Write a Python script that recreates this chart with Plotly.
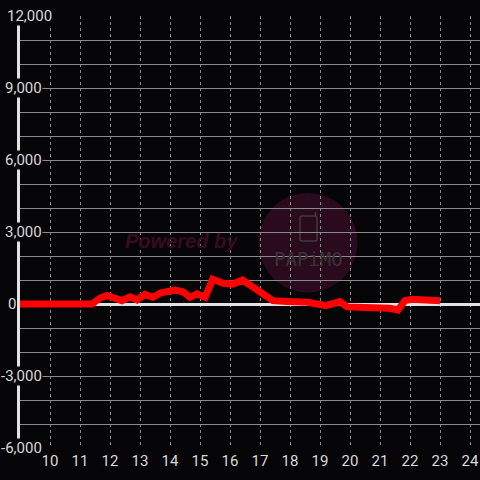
import plotly.graph_objects as go

# ---- data ----
hours = [9.0, 11.4, 11.67, 11.9, 12.4, 12.67, 12.9, 13.17, 13.43, 13.7, 14.17, 14.43,
         14.67, 14.9, 15.17, 15.42, 15.77, 16.1, 16.42, 16.67, 17.0, 17.43, 17.9,
         18.6, 19.2, 19.67, 19.9, 20.5, 21.33, 21.6, 21.83, 22.07, 23.0]
values = [0, 0, 250, 360, 140, 300, 170, 400, 280, 470, 580, 510,
          280, 420, 280, 1030, 860, 830, 1000, 790, 510, 140, 100,
          70, -70, 100, -120, -140, -180, -250, 140, 200, 140]

x_tick_vals = list(range(10, 25))
x_tick_text = [str(v) for v in x_tick_vals]
y_grid_vals = list(range(-6000, 12001, 1000))
y_label_vals = [12000, 9000, 6000, 3000, 0, -3000, -6000]
y_label_text = ["12,000", "9,000", "6,000", "3,000", "0", "-3,000", "-6,000"]

BG = "#050407"
GRID = "#8a8a8a"
AXIS = "#e2e2e2"
TXT = "#d9d9d9"
FONT = "Roboto, Liberation Sans, Arial"

W, H = 480, 480
ML, MR, MT, MB = 20, 0, 16, 32
PW, PH = W - ML - MR, H - MT - MB


def px(x):
    return (x - ML) / PW


def py(y):
    return (H - MB - y) / PH


fig = go.Figure()
fig.add_trace(go.Scatter(
    x=hours, y=values, mode="lines",
    line=dict(color="#ff0000", width=7),
    hoverinfo="skip", showlegend=False, cliponaxis=False,
))

# watermark
shapes = [
    dict(type="circle", xref="paper", yref="paper",
         x0=px(258.5), x1=px(357.5), y0=py(292.5), y1=py(193),
         fillcolor="#2a0a1d", line=dict(width=0), layer="below"),
    dict(type="path", xref="paper", yref="paper",
         path=(f"M {px(302)} {py(216)} L {px(315)} {py(216)} "
               f"Q {px(317)} {py(216)} {px(317)} {py(218)} "
               f"L {px(317)} {py(239)} Q {px(317)} {py(241)} {px(315)} {py(241)} "
               f"L {px(302)} {py(241)} Q {px(300)} {py(241)} {px(300)} {py(239)} "
               f"L {px(300)} {py(218)} Q {px(300)} {py(216)} {px(302)} {py(216)} Z"),
         line=dict(color="#403a3e", width=1.5), layer="below"),
    dict(type="line", xref="paper", yref="paper",
         x0=px(315.5), x1=px(315.5), y0=py(216), y1=py(212),
         line=dict(color="#403a3e", width=1.5), layer="below"),
]

annotations = [
    dict(text="<b><i>Powered by</i></b>", xref="paper", yref="paper",
         x=px(181), y=py(241), xanchor="center", yanchor="middle", showarrow=False,
         font=dict(family="Liberation Sans, Arial", size=20, color="#3a0b1e")),
    dict(text="PAPiMO", xref="paper", yref="paper",
         x=px(308), y=py(258.5), xanchor="center", yanchor="middle", showarrow=False,
         font=dict(family="DejaVu Sans Mono", size=19, color="#3a3336")),
]

# y tick labels: right-aligned at 43px, unless that would push them past the left edge
for v, t in zip(y_label_vals, y_label_text):
    if v == 0:
        xa, xp = "center", 12
    elif len(t) > 5 and not t.startswith("-"):
        xa, xp = "left", 6
    else:
        xa, xp = "right", 43
    annotations.append(dict(
        text=t, xref="paper", yref="y", x=px(xp), y=v,
        xanchor=xa, yanchor="middle", showarrow=False,
        bgcolor=BG, borderpad=0,
        font=dict(family=FONT, size=15, color=TXT)))

fig.update_layout(
    width=W, height=H, autosize=False,
    margin=dict(l=ML, r=MR, t=MT, b=MB, pad=0, autoexpand=False),
    paper_bgcolor=BG, plot_bgcolor=BG,
    shapes=shapes, annotations=annotations,
    xaxis=dict(range=[9, 9 + PW / 30], tickvals=x_tick_vals, ticktext=x_tick_text,
               showgrid=True, gridcolor=GRID, gridwidth=1, griddash="3px,3px",
               zeroline=False, showline=False, ticks="", automargin=False,
               ticklabelstandoff=2,
               tickfont=dict(family=FONT, size=15, color=TXT),
               fixedrange=True),
    yaxis=dict(range=[-6000, 12000], tickvals=y_grid_vals, showticklabels=False,
               showgrid=True, gridcolor=GRID, gridwidth=1,
               zeroline=True, zerolinecolor=AXIS, zerolinewidth=3,
               showline=True, linecolor=AXIS, linewidth=3, ticks="", automargin=False,
               fixedrange=True),
)

fig.write_html("out.html", config={"displayModeBar": False},
               post_script="document.body.style.margin='0';document.body.style.background='#050407';")
